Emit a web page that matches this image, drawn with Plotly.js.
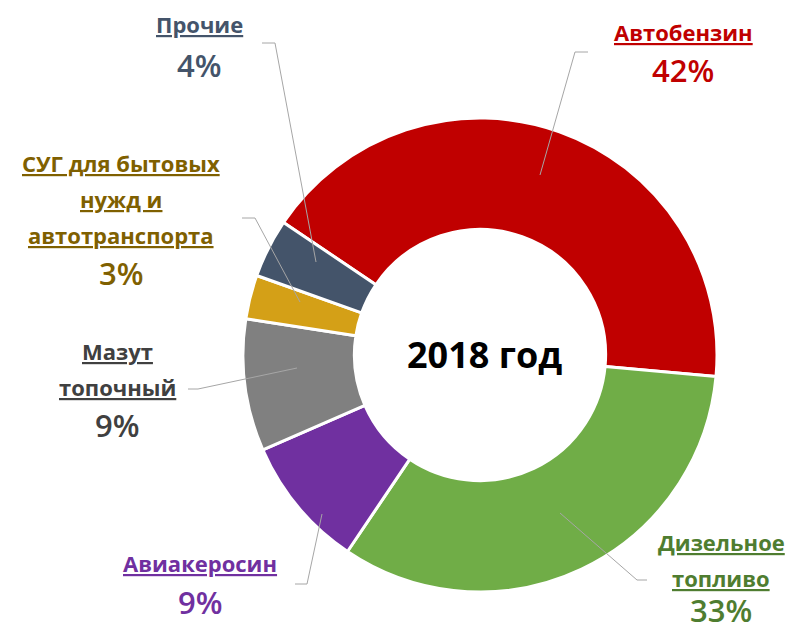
<!DOCTYPE html>
<html>
<head>
<meta charset="utf-8">
<script src="https://cdn.plot.ly/plotly-3.0.1.min.js"></script>
<style>html,body{margin:0;padding:0;background:#fff;}#chart{width:795px;height:630px;}</style>
</head>
<body>
<div id="chart"></div>
<script>
// Data
var categories = ["Автобензин", "Дизельное топливо", "Авиакеросин", "Мазут топочный", "СУГ для бытовых нужд и автотранспорта", "Прочие"];
var labelLines = [["Автобензин"], ["Дизельное", "топливо"], ["Авиакеросин"], ["Мазут", "топочный"], ["СУГ для бытовых", "нужд и", "автотранспорта"], ["Прочие"]];
var shares = [42, 33, 9, 9, 3, 4];
var centerTitle = "2018 год";

// Styles
var sliceColors = ["#C00000", "#70AD47", "#7030A0", "#808080", "#D4A017", "#44546A"];
var textColors = ["#C00000", "#4F7D30", "#7030A0", "#404040", "#7F6000", "#44546A"];
// label layout in pixels: center x, y of first line, line step, y of percent
var labelPos = [
  {x: 683, y: 32, step: 37, py: 70},
  {x: 721, y: 542, step: 36, py: 610},
  {x: 200, y: 563, step: 36, py: 602},
  {x: 117, y: 351, step: 36, py: 425},
  {x: 121, y: 163, step: 36, py: 273},
  {x: 199, y: 24, step: 36, py: 65}
];
var leaders = [
  [[588, 52], [575, 52], [540, 175]],
  [[647, 580], [637, 580], [560, 513]],
  [[295, 584], [307, 584], [322, 514]],
  [[188, 389], [198, 389], [297, 368]],
  [[242, 218], [255, 218], [300, 302]],
  [[262, 43], [275, 43], [316, 262]]
];

var W = 795, H = 630;
function px(x) { return x / W; }
function py(y) { return 1 - y / H; }

var annotations = [];
var shapes = [];
categories.forEach(function (c, i) {
  var p = labelPos[i];
  labelLines[i].forEach(function (ln, j) {
    annotations.push({
      xref: 'paper', yref: 'paper', x: px(p.x), y: py(p.y + j * p.step),
      xanchor: 'center', yanchor: 'middle', showarrow: false,
      text: '<u>' + ln + '</u>',
      font: {family: 'Open Sans', size: 22, weight: 700, color: textColors[i]}
    });
  });
  annotations.push({
    xref: 'paper', yref: 'paper', x: px(p.x), y: py(p.py),
    xanchor: 'center', yanchor: 'middle', showarrow: false,
    text: shares[i] + '%',
    font: {family: 'Open Sans', size: 31, weight: 600, color: textColors[i]}
  });
  var pts = leaders[i];
  var path = 'M ' + pts.map(function (q) { return px(q[0]) + ' ' + py(q[1]); }).join(' L ');
  shapes.push({type: 'path', xref: 'paper', yref: 'paper', path: path,
    line: {color: '#A6A6A6', width: 1}, layer: 'above'});
});
annotations.push({
  xref: 'paper', yref: 'paper', x: px(484), y: py(354),
  xanchor: 'center', yanchor: 'middle', showarrow: false,
  text: '<b>' + centerTitle + '</b>',
  font: {family: 'Open Sans', size: 36, color: '#000000'}
});

var trace = {
  type: 'pie',
  labels: categories,
  values: shares,
  sort: false,
  direction: 'clockwise',
  rotation: -56,
  hole: 0.53,
  textinfo: 'none',
  hoverinfo: 'label+percent',
  marker: {colors: sliceColors, line: {color: '#FFFFFF', width: 3}},
  domain: {x: [243 / W, 717 / W], y: [(275 - 237) / H, (275 + 237) / H]},
  showlegend: false
};

Plotly.newPlot('chart', [trace], {
  width: W, height: H,
  margin: {l: 0, r: 0, t: 0, b: 0},
  paper_bgcolor: '#FFFFFF',
  showlegend: false,
  annotations: annotations,
  shapes: shapes
}, {displayModeBar: false, staticPlot: true});
</script>
</body>
</html>
